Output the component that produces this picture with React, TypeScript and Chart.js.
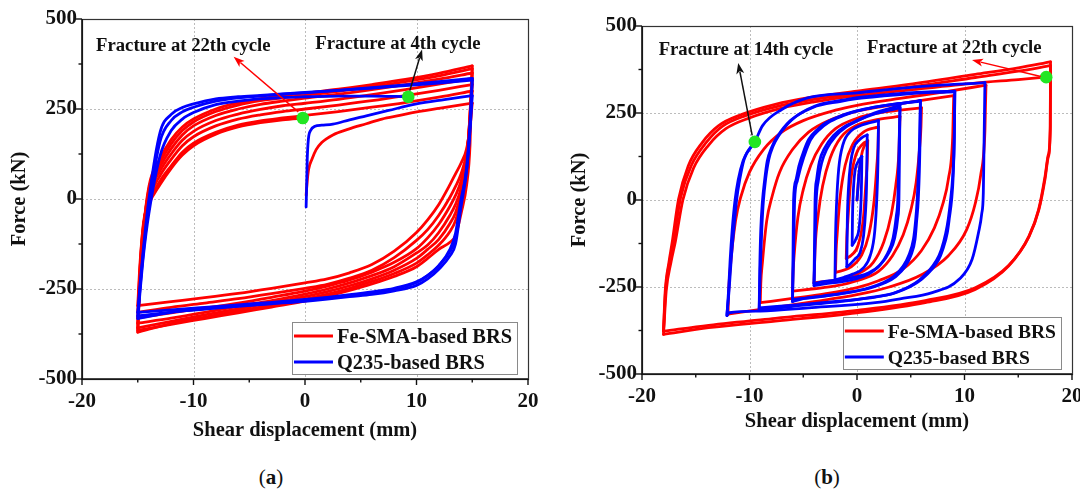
import React, { useEffect, useRef } from 'react';
import { Chart, registerables } from 'chart.js';

Chart.register(...registerables);

const FONT = '"Liberation Serif", "Times New Roman", Times, serif';
const RED = '#ff0000';
const BLUE = '#0000ff';
const GREEN = '#22e622';

// ---------- axes ----------
const X_MAJOR = [-20, -10, 0, 10, 20];
const X_MINOR = [-15, -5, 5, 15];
const Y_MAJOR = [-500, -250, 0, 250, 500];
const Y_MINOR = [-375, -125, 125, 375];
const X_GRID = [-10, 0, 10];
const Y_GRID = [-250, 0, 250];
const SERIES_NAMES = ['Fe-SMA-based BRS', 'Q235-based BRS'];

// ---------- panel (a) ----------
const A_UX = [-15, -14.8, -14.5, -14, -13, -12, -11, -10, -8, -6, -4, -2, 0, 3, 6, 9, 12, 15];
const A_LX = [15, 14.8, 14.5, 14, 13.5, 13, 12, 11, 10, 8, 6, 4, 2, 0, -3, -6, -9, -12, -15];

const A_RED_INIT_X = [0.1, 0.2, 0.33, 0.63, 1, 1.5, 2.5, 3.9, 5.5, 6.9, 8.5, 9.9, 12, 15];
const A_RED_INIT_Y = [10, 50, 83, 111, 137, 157, 178, 194, 209, 222, 232, 241, 252, 266];

const A_RED_L0 = [266, 200, 140, 100, 70, 40, -15, -58, -93, -145, -182, -205, -222, -233, -248, -262, -274, -285, -296];
const A_RED_U1 = [-296, -180, -75, -10, 50, 92, 130, 155, 185, 205, 217, 225, 232, 243, 255, 268, 283, 300];
const A_RED_L1 = [300, 215, 130, 70, 35, 5, -45, -85, -115, -163, -198, -220, -237, -248, -263, -277, -289, -301, -315];
const A_RED_U2 = [-315, -195, -80, 0, 65, 110, 148, 173, 203, 222, 234, 243, 250, 261, 273, 287, 302, 318];
const A_RED_L2 = [318, 220, 120, 50, 10, -20, -70, -108, -138, -176, -203, -225, -242, -256, -273, -289, -303, -316, -330];
const A_RED_U3 = [-330, -210, -85, 10, 78, 125, 163, 188, 218, 236, 249, 259, 266, 277, 290, 304, 319, 335];
const A_RED_L3 = [335, 230, 110, 30, -15, -45, -93, -128, -150, -188, -213, -233, -250, -264, -282, -298, -315, -331, -345];
const A_RED_U4 = [-345, -220, -88, 20, 90, 140, 178, 203, 232, 250, 263, 272, 280, 291, 304, 318, 333, 350];
const A_RED_L4 = [350, 235, 100, 15, -38, -68, -112, -140, -165, -198, -222, -241, -257, -271, -288, -305, -322, -340, -358];
const A_RED_U5 = [-358, -225, -90, 28, 102, 153, 190, 214, 243, 261, 273, 281, 288, 299, 312, 326, 342, 362];
const A_RED_L5 = [362, 240, 90, 0, -60, -90, -128, -155, -178, -207, -229, -248, -264, -278, -295, -311, -328, -346, -370];
const A_RED_U6 = [-370, -230, -90, 35, 112, 165, 200, 222, 250, 267, 279, 287, 294, 305, 318, 332, 349, 370];
const A_RED_L6 = [370, 150, 40, -40, -102, -120, -140, -165, -188, -215, -236, -254, -270, -284, -300, -316, -332, -348, -365];
const A_RED_U7 = [-365, -200, -70, -15, 40, 85, 122, 148, 180, 200, 212, 220, 225];

const A_BLUE_INIT_X = [0.1, 0.15, 0.2, 0.3, 0.5, 0.9, 1.5, 2.5, 4, 5.5, 7.5, 10, 12.5, 15];
const A_BLUE_INIT_Y = [-22, 40, 110, 165, 190, 202, 205, 208, 220, 231, 246, 264, 276, 287];
const A_BLUE_L1 = [287, 190, 80, 0, -95, -140, -185, -212, -230, -248, -258, -266, -273, -279, -287, -294, -301, -308, -315];
const A_BLUE_U1 = [-315, -240, -140, 0, 185, 235, 254, 264, 278, 284, 288, 292, 296, 302, 308, 315, 322, 330];
const A_BLUE_L2 = [330, 200, 80, -20, -125, -158, -195, -222, -240, -255, -265, -271, -278, -284, -291, -298, -306, -314, -325];
const A_BLUE_U2 = [-325, -250, -150, -20, 160, 218, 242, 255, 272, 281, 286, 291, 295, 302, 309, 317, 326, 335];
const A_BLUE_L3 = [335, 210, 90, -10, -110, -145, -185, -213, -232, -250, -261, -268, -275, -282, -290, -297, -305, -315, -332];
const A_BLUE_U3_X = [-15, -14.8, -14.5, -14, -13, -12, -11, -10, -8, -6, -4, -2, 0, 3, 6, 9.26];
const A_BLUE_U3_Y = [-332, -260, -160, -40, 120, 190, 222, 240, 262, 272, 278, 282, 284, 286, 286, 284];

const A_FRACTURE_X = [-0.2, 9.26];
const A_FRACTURE_Y = [225, 284];

// ---------- panel (b) ----------
const B_RED_INIT_X = [0, 0.2, 0.5, 1];
const B_RED_INIT_Y = [0, 80, 140, 170];
const B_RED1_UX = [-1, -0.95, -0.85, -0.6, -0.1, 0.5, 1];
const B_RED1_UY = [-168, -110, -60, 50, 130, 160, 170];
const B_RED1_LX = [1, 0.95, 0.85, 0.6, 0.1, -0.5, -1];
const B_RED1_LY = [170, 110, 60, -50, -130, -158, -168];
const B_RED2_UX = [-2, -1.95, -1.85, -1.6, -1.1, -0.4, 0.6, 2];
const B_RED2_UY = [-208, -150, -100, 0, 100, 160, 195, 210];
const B_RED2_LX = [2, 1.95, 1.85, 1.6, 1.1, 0.4, -0.6, -2];
const B_RED2_LY = [210, 150, 100, 0, -100, -160, -193, -208];
const B_RED4_UX = [-4, -3.95, -3.9, -3.6, -3.2, -2.5, -1.5, 0, 2, 4];
const B_RED4_UY = [-238, -190, -140, -40, 40, 120, 180, 215, 232, 240];
const B_RED4_LX = [4, 3.95, 3.9, 3.6, 3.2, 2.5, 1.5, 0, -2, -4];
const B_RED4_LY = [240, 190, 140, 40, -40, -120, -180, -213, -230, -238];
const B_RED6_UX = [-6, -5.95, -5.85, -5.5, -5, -4.3, -3.3, -2, 0, 2, 4, 6];
const B_RED6_UY = [-262, -210, -160, -50, 30, 100, 160, 205, 235, 250, 258, 265];
const B_RED6_LX = [6, 5.95, 5.85, 5.5, 5, 4.3, 3.3, 2, 0, -2, -4, -6];
const B_RED6_LY = [265, 210, 160, 50, -30, -100, -160, -205, -232, -247, -255, -262];
const B_RED9_UX = [-9, -8.95, -8.8, -8.4, -7.9, -7.2, -6, -4.5, -2.5, 0, 3, 6, 9];
const B_RED9_UY = [-295, -240, -180, -60, 10, 80, 145, 195, 230, 255, 272, 286, 300];
const B_RED9_LX = [9, 8.95, 8.9, 8.5, 8, 7.2, 6, 4.3, 2, 0, -3, -6, -9];
const B_RED9_LY = [300, 240, 180, 60, -10, -80, -145, -198, -232, -252, -270, -283, -295];
const B_RED12_UX = [-12, -11.95, -11.8, -11.3, -10.8, -10, -8.7, -7, -5, -2, 0, 4, 8, 12];
const B_RED12_UY = [-330, -270, -200, -60, 10, 80, 145, 195, 228, 258, 272, 292, 310, 330];
const B_RED12_LX = [12, 11.95, 11.9, 11.5, 11, 10.2, 8.5, 6, 3, 0, -4, -8, -12];
const B_RED12_LY = [330, 270, 200, 70, -10, -85, -160, -215, -250, -272, -292, -310, -328];
const B_RED18A_UX = [-18, -17.85, -17.5, -17.2, -16.6, -15.7, -14.4, -12.9, -10.7, -7.6, -4.5, 0, 4.8, 11, 15, 18];
const B_RED18A_UY = [-377, -266, -180, -123, 2, 98, 165, 213, 246, 275, 294, 313, 332, 361, 380, 397];
const B_RED18B_UX = [-18, -17.8, -17.4, -17.05, -16.4, -15.4, -14.0, -12.5, -10.3, -7.3, -4.3, 0, 4.8, 11, 15, 18];
const B_RED18B_UY = [-375, -258, -172, -115, 8, 100, 166, 212, 243, 270, 288, 306, 324, 352, 370, 386];
const B_RED18_LX = [18, 17.98, 17.8, 17.5, 16.9, 16, 14.1, 11, 6.35, 0, -7.6, -13.8, -18];
const B_RED18A_LY = [397, 213, 130, 69, -27, -104, -190, -257, -295, -324, -348, -367, -386];
const B_RED18B_LY = [386, 205, 125, 62, -30, -105, -188, -252, -289, -317, -340, -360, -377];
const B_RED18C_UX = [-18, -17.75, -17.3, -16.9, -16.2, -15.2, -13.8, -12.2, -10.0, -7.0, -4.0, 0, 4.8, 11, 15, 17.6];
const B_RED18C_UY = [-386, -262, -178, -120, 0, 92, 158, 205, 236, 264, 282, 300, 316, 336, 346, 353];

const B_BLUE_INIT_X = [0, 0.1, 0.2, 0.3, 0.45];
const B_BLUE_INIT_Y = [0, 40, 80, 105, 125];
const B_BLUE05_UX = [-0.45, -0.42, -0.35, -0.2, 0.1, 0.45];
const B_BLUE05_UY = [-130, -50, 20, 80, 110, 125];
const B_BLUE05_LX = [0.45, 0.42, 0.35, 0.2, -0.1, -0.45];
const B_BLUE05_LY = [125, 50, -20, -80, -112, -130];
const B_BLUE1_UX = [-0.95, -0.9, -0.8, -0.6, -0.3, 0.2, 0.6, 0.95];
const B_BLUE1_UY = [-192, -60, 30, 105, 150, 172, 182, 187];
const B_BLUE1_LX = [0.95, 0.9, 0.8, 0.6, 0.3, -0.2, -0.6, -0.95];
const B_BLUE1_LY = [187, 60, -30, -105, -150, -170, -183, -192];
const B_BLUE2_UX = [-2.05, -2, -1.9, -1.7, -1.3, -0.6, 0.4, 1.2, 2];
const B_BLUE2_UY = [-230, -110, -10, 90, 160, 197, 215, 222, 228];
const B_BLUE2_LX = [2, 1.95, 1.85, 1.65, 1.25, 0.6, -0.4, -1.2, -2.05];
const B_BLUE2_LY = [228, 110, 10, -90, -158, -195, -213, -222, -230];
const B_BLUE4A_UX = [-4, -3.95, -3.9, -3.75, -3.5, -3, -2.2, -1.2, 0, 1.5, 3, 4];
const B_BLUE4A_UY = [-240, -120, 0, 60, 110, 150, 185, 210, 228, 246, 258, 265];
const B_BLUE4A_LX = [4, 3.95, 3.9, 3.8, 3.5, 3, 2.2, 1.1, 0, -1.4, -3, -4];
const B_BLUE4A_LY = [265, 130, 0, -50, -110, -150, -185, -209, -220, -228, -234, -240];
const B_BLUE4B_UX = [-4, -3.9, -3.8, -3.6, -3.3, -2.8, -2.0, -1.0, 0.2, 1.6, 3, 4];
const B_BLUE4B_UY = [-246, -125, -5, 55, 105, 147, 183, 210, 230, 250, 263, 272];
const B_BLUE4B_LX = [4, 3.9, 3.8, 3.65, 3.35, 2.85, 2.05, 0.95, -0.1, -1.5, -3, -4];
const B_BLUE4B_LY = [272, 135, 5, -48, -110, -153, -190, -215, -227, -235, -241, -246];
const B_BLUE6A_UX = [-6, -5.95, -5.9, -5.7, -5.4, -4.9, -4.5, -3.6, -2.9, -1.5, 0, 1.5, 3.3, 5, 5.9];
const B_BLUE6A_UY = [-290, -150, 0, 55, 98, 145, 174, 205, 222, 242, 256, 266, 275, 281, 284];
const B_BLUE6A_LX = [5.9, 5.85, 5.7, 5.55, 5.4, 5, 4.5, 3.6, 2.6, 1, -0.8, -3, -5, -6];
const B_BLUE6A_LY = [284, 150, 2, -60, -113, -160, -190, -220, -238, -255, -266, -276, -283, -286];
const B_BLUE6B_UX = [-6, -5.9, -5.8, -5.55, -5.2, -4.7, -4.3, -3.4, -2.7, -1.3, 0, 1.5, 3.3, 5, 5.9];
const B_BLUE6B_UY = [-292, -150, 0, 55, 98, 145, 174, 205, 222, 242, 256, 266, 275, 281, 286];
const B_BLUE6B_LX = [5.9, 5.8, 5.6, 5.45, 5.25, 4.8, 4.3, 3.4, 2.4, 0.8, -1, -3.2, -5.1, -6];
const B_BLUE6B_LY = [286, 150, 2, -60, -113, -160, -190, -220, -238, -255, -266, -276, -284, -292];
const B_BLUE9A_UX = [-9.1, -9.0, -8.85, -8.7, -8.5, -8.2, -7.8, -7.3, -6, -3.9, -1.5, 0, 2.5, 4.8, 7, 9.1];
const B_BLUE9A_UY = [-314, -200, -80, 0, 60, 117, 155, 184, 232, 270, 286, 294, 302, 308, 311, 313];
const B_BLUE9A_LX = [9.1, 9.05, 8.95, 8.8, 8.6, 8.4, 8.0, 7.6, 6, 3.6, 1, -1.4, -5, -9.1];
const B_BLUE9A_LY = [313, 180, 70, 0, -50, -94, -140, -171, -228, -266, -281, -290, -300, -310];
const B_BLUE9B_UX = [-9.1, -9.05, -8.95, -8.8, -8.6, -8.35, -7.95, -7.45, -6.2, -4.1, -1.6, 0, 2.5, 4.8, 7, 9.1];
const B_BLUE9B_UY = [-318, -205, -85, -5, 55, 112, 150, 180, 228, 266, 283, 291, 299, 305, 309, 311];
const B_BLUE9B_LX = [9.1, 9.05, 8.9, 8.7, 8.5, 8.25, 7.85, 7.4, 5.8, 3.4, 0.8, -1.6, -5.2, -9.1];
const B_BLUE9B_LY = [311, 178, 68, -2, -52, -96, -142, -173, -230, -268, -283, -292, -303, -318];
const B_BLUE12_UX = [-12.1, -11.9, -11.7, -11.45, -11.2, -10.9, -10.5, -9.5, -8.8, -7, -4.5, 0, 4.8, 9, 11.9];
const B_BLUE12_UY = [-329, -260, -170, -80, 0, 60, 117, 167, 213, 260, 294, 308, 323, 332, 337];
const B_BLUE12_LX = [11.9, 11.85, 11.8, 11.75, 11.6, 11.3, 10.7, 9.5, 7, 4, 1.7, -4.5, -9, -11.9, -12.1];
const B_BLUE12_LY = [337, 230, 120, 21, -40, -94, -171, -228, -266, -284, -295, -310, -319, -324, -332];
const B_BLUE12F_UX = [-12.1, -11.95, -11.8, -11.6, -11.35, -11.05, -10.6, -10.05, -9.5];
const B_BLUE12F_UY = [-332, -262, -172, -82, -2, 58, 112, 145, 167];

const B_FRACTURE_X = [-9.5, 17.6];
const B_FRACTURE_Y = [167, 353];

// ---------- helpers ----------
type Pt = { x: number; y: number };
const pts = (xs: number[], ys: number[]): Pt[] => ys.map((y, i) => ({ x: xs[i], y }));

function curve(data: Pt[], color: string) {
  return {
    data,
    order: color === BLUE ? 1 : 2,
    showLine: true,
    borderColor: color,
    backgroundColor: color,
    borderWidth: 2.8,
    pointRadius: 0,
    pointHoverRadius: 0,
    pointHitRadius: 0,
    fill: false,
    cubicInterpolationMode: 'monotone',
    borderCapStyle: 'round',
    borderJoinStyle: 'round',
  };
}
function dots(data: Pt[]) {
  return {
    data,
    order: 0,
    showLine: false,
    pointRadius: 6.3,
    pointHoverRadius: 6.3,
    pointBackgroundColor: GREEN,
    pointBorderColor: GREEN,
    pointBorderWidth: 0,
  };
}

const decoPlugin = {
  id: 'deco',
  beforeDatasetsDraw(chart: any) {
    const { ctx, chartArea: ca } = chart;
    const xs = chart.scales.x;
    const ys = chart.scales.y;
    ctx.save();
    ctx.strokeStyle = '#bcbcbc';
    ctx.lineWidth = 1;
    ctx.setLineDash([2, 2]);
    for (const v of X_GRID) {
      const p = Math.round(xs.getPixelForValue(v)) + 0.5;
      ctx.beginPath();
      ctx.moveTo(p, ca.top);
      ctx.lineTo(p, ca.bottom);
      ctx.stroke();
    }
    for (const v of Y_GRID) {
      const p = Math.round(ys.getPixelForValue(v)) + 0.5;
      ctx.beginPath();
      ctx.moveTo(ca.left, p);
      ctx.lineTo(ca.right, p);
      ctx.stroke();
    }
    ctx.restore();
  },
  afterDatasetsDraw(chart: any, _args: any, opts: any) {
    const { ctx, chartArea: ca } = chart;
    const xs = chart.scales.x;
    const ys = chart.scales.y;
    ctx.save();
    // frame
    ctx.setLineDash([]);
    ctx.strokeStyle = '#333';
    ctx.lineWidth = 1.2;
    ctx.strokeRect(ca.left + 0.5, ca.top + 0.5, ca.width, ca.height);
    ctx.strokeStyle = '#111';
    ctx.lineWidth = 1.6;
    ctx.beginPath();
    ctx.moveTo(ca.left, ca.top);
    ctx.lineTo(ca.left, ca.bottom);
    ctx.lineTo(ca.right, ca.bottom);
    ctx.stroke();
    // ticks
    ctx.lineWidth = 1.4;
    const tick = (vals: number[], len: number) => {
      for (const v of vals) {
        const p = xs.getPixelForValue(v);
        ctx.beginPath();
        ctx.moveTo(p, ca.bottom);
        ctx.lineTo(p, ca.bottom + len);
        ctx.stroke();
      }
    };
    const ytick = (vals: number[], len: number) => {
      for (const v of vals) {
        const p = ys.getPixelForValue(v);
        ctx.beginPath();
        ctx.moveTo(ca.left, p);
        ctx.lineTo(ca.left - len, p);
        ctx.stroke();
      }
    };
    tick(X_MAJOR, 6);
    tick(X_MINOR, 3.5);
    ytick(Y_MAJOR, 6);
    ytick(Y_MINOR, 3.5);

    // arrows
    for (const a of opts.arrows || []) {
      const x1 = xs.getPixelForValue(a.from[0]);
      const y1 = ys.getPixelForValue(a.from[1]);
      const x2 = xs.getPixelForValue(a.to[0]);
      const y2 = ys.getPixelForValue(a.to[1]);
      const ang = Math.atan2(y2 - y1, x2 - x1);
      const hl = 11;
      const hw = 4;
      ctx.strokeStyle = a.color;
      ctx.fillStyle = a.color;
      ctx.lineWidth = 1.5;
      ctx.beginPath();
      ctx.moveTo(x1, y1);
      ctx.lineTo(x2 - Math.cos(ang) * hl * 0.8, y2 - Math.sin(ang) * hl * 0.8);
      ctx.stroke();
      ctx.beginPath();
      ctx.moveTo(x2, y2);
      ctx.lineTo(x2 - Math.cos(ang) * hl - Math.sin(ang) * hw, y2 - Math.sin(ang) * hl + Math.cos(ang) * hw);
      ctx.lineTo(x2 - Math.cos(ang) * hl * 0.75, y2 - Math.sin(ang) * hl * 0.75);
      ctx.lineTo(x2 - Math.cos(ang) * hl + Math.sin(ang) * hw, y2 - Math.sin(ang) * hl - Math.cos(ang) * hw);
      ctx.closePath();
      ctx.fill();
    }
    // texts
    ctx.fillStyle = '#111';
    ctx.font = `bold 18.7px ${FONT}`;
    ctx.textAlign = 'left';
    ctx.textBaseline = 'alphabetic';
    for (const t of opts.texts || []) {
      ctx.fillText(t.text, xs.getPixelForValue(t.x), ys.getPixelForValue(t.y));
    }
    // legend
    ctx.font = `bold ${opts.legendSize}px ${FONT}`;
    const tw = Math.max(...SERIES_NAMES.map((s) => ctx.measureText(s).width));
    const bw = 46 + tw + 4;
    const bh = 52;
    const bx = ca.right - 11 - bw;
    const by = ca.bottom - 5 - bh;
    ctx.fillStyle = '#fff';
    ctx.fillRect(bx, by, bw, bh);
    ctx.strokeStyle = '#8a8a8a';
    ctx.lineWidth = 1;
    ctx.strokeRect(Math.round(bx) + 0.5, Math.round(by) + 0.5, Math.round(bw), bh);
    const rows = [
      { name: SERIES_NAMES[0], color: RED, y: by + 14 },
      { name: SERIES_NAMES[1], color: BLUE, y: by + 40 },
    ];
    for (const r of rows) {
      ctx.strokeStyle = r.color;
      ctx.lineWidth = 2.8;
      ctx.beginPath();
      ctx.moveTo(bx + 2, r.y);
      ctx.lineTo(bx + 41, r.y);
      ctx.stroke();
      ctx.fillStyle = '#111';
      ctx.fillText(r.name, bx + 45, r.y + 7);
    }
    ctx.restore();
  },
};

type PanelCfg = {
  datasets: any[];
  padTop: number;
  padRight: number;
  yWidth: number;
  xHeight: number;
  xTitlePad: number;
  yTitlePad: number;
  legendSize: number;
  texts: any[];
  arrows: any[];
};

function buildConfig(p: PanelCfg): any {
  const tickFont = { family: FONT, size: 21, weight: 'bold' };
  const titleFont = { family: FONT, size: 20.5, weight: 'bold' };
  return {
    type: 'scatter',
    data: { datasets: p.datasets },
    options: {
      animation: false,
      responsive: false,
      maintainAspectRatio: false,
      events: [],
      layout: { padding: { top: p.padTop, right: p.padRight, bottom: 0, left: 0 } },
      plugins: {
        legend: { display: false },
        tooltip: { enabled: false },
        deco: { texts: p.texts, arrows: p.arrows, legendSize: p.legendSize },
      },
      scales: {
        x: {
          type: 'linear',
          min: -20,
          max: 20,
          grid: { display: false, drawTicks: false },
          border: { display: false },
          ticks: { stepSize: 10, padding: 10, font: tickFont, color: '#111', maxRotation: 0, autoSkip: false },
          title: {
            display: true,
            text: 'Shear displacement (mm)',
            font: titleFont,
            color: '#111',
            padding: { top: 0, bottom: p.xTitlePad },
          },
          afterFit: (s: any) => {
            s.height = p.xHeight;
          },
        },
        y: {
          type: 'linear',
          min: -500,
          max: 500,
          grid: { display: false, drawTicks: false },
          border: { display: false },
          ticks: { stepSize: 250, padding: 5, font: tickFont, color: '#111', autoSkip: false },
          title: {
            display: true,
            text: 'Force (kN)',
            font: titleFont,
            color: '#111',
            padding: { top: p.yTitlePad, bottom: 0 },
          },
          afterFit: (s: any) => {
            s.width = p.yWidth;
          },
        },
      },
    },
    plugins: [decoPlugin],
  };
}

const panelA: PanelCfg = {
  datasets: [
    curve(pts(A_RED_INIT_X, A_RED_INIT_Y), RED),
    curve(pts(A_LX, A_RED_L0), RED),
    curve(pts(A_UX, A_RED_U1), RED),
    curve(pts(A_LX, A_RED_L1), RED),
    curve(pts(A_UX, A_RED_U2), RED),
    curve(pts(A_LX, A_RED_L2), RED),
    curve(pts(A_UX, A_RED_U3), RED),
    curve(pts(A_LX, A_RED_L3), RED),
    curve(pts(A_UX, A_RED_U4), RED),
    curve(pts(A_LX, A_RED_L4), RED),
    curve(pts(A_UX, A_RED_U5), RED),
    curve(pts(A_LX, A_RED_L5), RED),
    curve(pts(A_UX, A_RED_U6), RED),
    curve(pts(A_LX, A_RED_L6), RED),
    curve(pts(A_UX, A_RED_U7), RED),
    curve(pts(A_BLUE_INIT_X, A_BLUE_INIT_Y), BLUE),
    curve(pts(A_LX, A_BLUE_L1), BLUE),
    curve(pts(A_UX, A_BLUE_U1), BLUE),
    curve(pts(A_LX, A_BLUE_L2), BLUE),
    curve(pts(A_UX, A_BLUE_U2), BLUE),
    curve(pts(A_LX, A_BLUE_L3), BLUE),
    curve(pts(A_BLUE_U3_X, A_BLUE_U3_Y), BLUE),
    dots(pts(A_FRACTURE_X, A_FRACTURE_Y)),
  ],
  padTop: 19,
  padRight: 32,
  yWidth: 82,
  xHeight: 71,
  xTitlePad: 7,
  yTitlePad: 7,
  legendSize: 20.4,
  texts: [
    { text: 'Fracture at 22th cycle', x: -18.74, y: 412 },
    { text: 'Fracture at 4th cycle', x: 0.93, y: 418 },
  ],
  arrows: [
    { from: [-0.6, 242], to: [-6.4, 395], color: RED },
    { from: [9.4, 301], to: [10.5, 415], color: '#111' },
  ],
};

const panelB: PanelCfg = {
  datasets: [
    curve(pts(B_RED_INIT_X, B_RED_INIT_Y), RED),
    curve(pts(B_RED1_UX, B_RED1_UY), RED),
    curve(pts(B_RED1_LX, B_RED1_LY), RED),
    curve(pts(B_RED2_UX, B_RED2_UY), RED),
    curve(pts(B_RED2_LX, B_RED2_LY), RED),
    curve(pts(B_RED4_UX, B_RED4_UY), RED),
    curve(pts(B_RED4_LX, B_RED4_LY), RED),
    curve(pts(B_RED6_UX, B_RED6_UY), RED),
    curve(pts(B_RED6_LX, B_RED6_LY), RED),
    curve(pts(B_RED9_UX, B_RED9_UY), RED),
    curve(pts(B_RED9_LX, B_RED9_LY), RED),
    curve(pts(B_RED12_UX, B_RED12_UY), RED),
    curve(pts(B_RED12_LX, B_RED12_LY), RED),
    curve(pts(B_RED18B_UX, B_RED18B_UY), RED),
    curve(pts(B_RED18_LX, B_RED18B_LY), RED),
    curve(pts(B_RED18A_UX, B_RED18A_UY), RED),
    curve(pts(B_RED18_LX, B_RED18A_LY), RED),
    curve(pts(B_RED18C_UX, B_RED18C_UY), RED),
    curve(pts(B_BLUE_INIT_X, B_BLUE_INIT_Y), BLUE),
    curve(pts(B_BLUE05_LX, B_BLUE05_LY), BLUE),
    curve(pts(B_BLUE05_UX, B_BLUE05_UY), BLUE),
    curve(pts(B_BLUE1_LX, B_BLUE1_LY), BLUE),
    curve(pts(B_BLUE1_UX, B_BLUE1_UY), BLUE),
    curve(pts(B_BLUE2_LX, B_BLUE2_LY), BLUE),
    curve(pts(B_BLUE2_UX, B_BLUE2_UY), BLUE),
    curve(pts(B_BLUE4A_LX, B_BLUE4A_LY), BLUE),
    curve(pts(B_BLUE4A_UX, B_BLUE4A_UY), BLUE),
    curve(pts(B_BLUE4B_LX, B_BLUE4B_LY), BLUE),
    curve(pts(B_BLUE4B_UX, B_BLUE4B_UY), BLUE),
    curve(pts(B_BLUE6A_LX, B_BLUE6A_LY), BLUE),
    curve(pts(B_BLUE6A_UX, B_BLUE6A_UY), BLUE),
    curve(pts(B_BLUE6B_LX, B_BLUE6B_LY), BLUE),
    curve(pts(B_BLUE6B_UX, B_BLUE6B_UY), BLUE),
    curve(pts(B_BLUE9A_LX, B_BLUE9A_LY), BLUE),
    curve(pts(B_BLUE9A_UX, B_BLUE9A_UY), BLUE),
    curve(pts(B_BLUE9B_LX, B_BLUE9B_LY), BLUE),
    curve(pts(B_BLUE9B_UX, B_BLUE9B_UY), BLUE),
    curve(pts(B_BLUE12_UX, B_BLUE12_UY), BLUE),
    curve(pts(B_BLUE12_LX, B_BLUE12_LY), BLUE),
    curve(pts(B_BLUE12F_UX, B_BLUE12F_UY), BLUE),
    dots(pts(B_FRACTURE_X, B_FRACTURE_Y)),
  ],
  padTop: 26,
  padRight: 28,
  yWidth: 102,
  xHeight: 76,
  xTitlePad: 16,
  yTitlePad: 27,
  legendSize: 19.6,
  texts: [
    { text: 'Fracture at 14th cycle', x: -18.45, y: 416 },
    { text: 'Fracture at 22th cycle', x: 0.93, y: 421 },
  ],
  arrows: [
    { from: [-9.75, 186], to: [-11.05, 394], color: '#111' },
    { from: [17.1, 355], to: [10.7, 402], color: RED },
  ],
};

function Panel({ cfg, left, width, height }: { cfg: PanelCfg; left: number; width: number; height: number }) {
  const ref = useRef<HTMLCanvasElement>(null);
  useEffect(() => {
    const chart = new Chart(ref.current as HTMLCanvasElement, buildConfig(cfg));
    return () => chart.destroy();
  }, [cfg]);
  return (
    <canvas
      ref={ref}
      width={width}
      height={height}
      style={{ position: 'absolute', left, top: 0, width, height, display: 'block' }}
    />
  );
}

const captionStyle: React.CSSProperties = {
  position: 'absolute',
  top: 464,
  width: 60,
  textAlign: 'center',
  fontFamily: FONT,
  fontSize: 21,
  lineHeight: '26px',
  color: '#111',
};

export default function App() {
  return (
    <div
      style={{
        position: 'fixed',
        left: 0,
        top: 0,
        width: 1080,
        height: 490,
        overflow: 'hidden',
        background: '#fff',
      }}
    >
      <Panel cfg={panelA} left={0} width={560} height={450} />
      <Panel cfg={panelB} left={540} width={560} height={450} />
      <div style={{ ...captionStyle, left: 241 }}>
        (<b>a</b>)
      </div>
      <div style={{ ...captionStyle, left: 797 }}>
        (<b>b</b>)
      </div>
    </div>
  );
}
